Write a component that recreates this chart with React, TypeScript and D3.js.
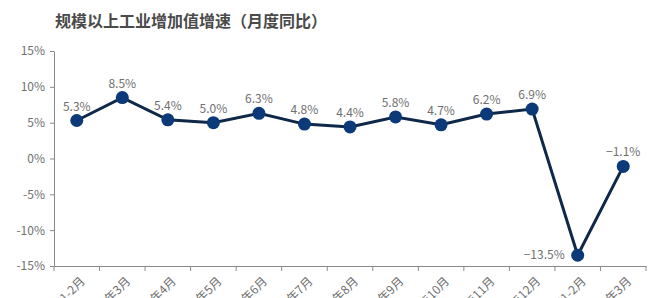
import React, { useEffect, useRef } from "react";
import * as d3 from "d3";

const categories = [
  "2019年1-2月", "2019年3月", "2019年4月", "2019年5月", "2019年6月", "2019年7月",
  "2019年8月", "2019年9月", "2019年10月", "2019年11月", "2019年12月", "2020年1-2月", "2020年3月",
];
const values = [5.3, 8.5, 5.4, 5.0, 6.3, 4.8, 4.4, 5.8, 4.7, 6.2, 6.9, -13.5, -1.1];
const yTicks = [15, 10, 5, 0, -5, -10, -15];
const title = "规模以上工业增加值增速（月度同比）";

const W = 660, H = 298;
const FONT = "'Noto Sans CJK SC', 'Noto Sans', sans-serif";

export default function App() {
  const ref = useRef<SVGSVGElement>(null);
  useEffect(() => {
    const svg = d3.select(ref.current);
    svg.selectAll("*").remove();
    const x = d3.scaleBand<string>().domain(categories).range([54, 646]);
    const y = d3.scaleLinear().domain([-15, 15]).range([266, 51]);

    svg.append("text").attr("x", 55).attr("y", 27).text(title)
      .attr("font-family", FONT).attr("font-size", 16).attr("font-weight", "bold").attr("fill", "#4a4a4a");

    const yAxis = svg.append("g").attr("transform", "translate(54,0)")
      .call(d3.axisLeft(y).tickValues(yTicks).tickSize(4).tickSizeOuter(0).tickFormat((d) => `${d}%`));
    yAxis.selectAll("text").attr("font-family", FONT).attr("font-size", 12).attr("fill", "#707070").attr("dx", -2);
    yAxis.selectAll("line, path").attr("stroke", "#8a8a8a");

    const xAxis = svg.append("g").attr("transform", "translate(0,266)")
      .call(d3.axisBottom(x).tickSize(0).tickSizeOuter(0));
    xAxis.selectAll("path").attr("stroke", "#8a8a8a");
    xAxis.selectAll("text").attr("font-family", FONT).attr("font-size", 12).attr("fill", "#707070")
      .attr("text-anchor", "end").attr("dy", null).attr("y", 0)
      .attr("transform", "translate(9,16) rotate(-45)");
    const bounds = categories.map((c) => x(c)!).concat([x.range()[1]]);
    svg.append("g").selectAll("line").data(bounds).join("line")
      .attr("x1", (d) => d).attr("x2", (d) => d).attr("y1", 266).attr("y2", 271)
      .attr("stroke", "#8a8a8a");

    const cx = (i: number) => x(categories[i])! + x.bandwidth() / 2;
    const line = d3.line<number>().x((_, i) => cx(i)).y((d) => y(d));
    svg.append("path").datum(values).attr("d", line).attr("fill", "none")
      .attr("stroke", "#0f2748").attr("stroke-width", 3);
    svg.append("g").selectAll("circle").data(values).join("circle")
      .attr("cx", (_, i) => cx(i)).attr("cy", (d) => y(d)).attr("r", 6.5).attr("fill", "#0c3a78");

    svg.append("g").selectAll("text").data(values).join("text")
      .attr("x", (d, i) => (d < -10 ? cx(i) - 13 : cx(i)))
      .attr("y", (d) => (d < -10 ? y(d) + 4 : y(d) - 10))
      .attr("text-anchor", (d) => (d < -10 ? "end" : "middle"))
      .attr("font-family", FONT).attr("font-size", 12).attr("fill", "#6f6f6f")
      .text((d) => `${d < 0 ? "−" + Math.abs(d).toFixed(1) : d.toFixed(1)}%`);
  }, []);
  return (
    <div style={{ position: "fixed", left: 0, top: 0, background: "#fff" }}>
      <svg ref={ref} width={W} height={H} style={{ display: "block" }} />
    </div>
  );
}
